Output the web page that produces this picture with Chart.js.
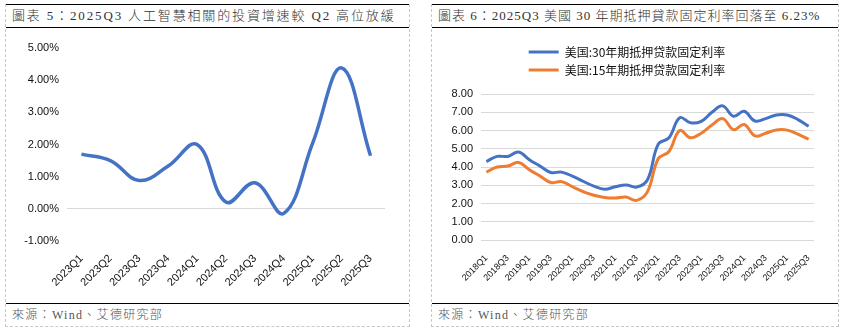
<!DOCTYPE html>
<html>
<head>
<meta charset="utf-8">
<script src="https://cdn.jsdelivr.net/npm/chart.js@4.4.1/dist/chart.umd.min.js"></script>
<style>
  body { margin: 0; width: 846px; height: 335px; background: #fff; position: relative; overflow: hidden; }
  .panel { position: absolute; top: 4px; height: 323px; box-sizing: border-box;
           border-left: 1px dashed #c8c8c8; border-right: 1px dashed #c8c8c8; border-bottom: 1px dashed #c8c8c8; }
  .title { position: absolute; left: 0; right: 0; top: 0; height: 24px; box-sizing: border-box;
           border-top: 1.5px solid #000; border-bottom: 1.5px solid #000;
           font-family: "Liberation Serif", "Noto Sans CJK TC", serif; font-size: 13px; line-height: 22px;
           font-weight: 300; color: #333; padding-left: 6px; white-space: nowrap; }
  .source { position: absolute; left: 0; right: 0; top: 299px; height: 24px; box-sizing: border-box;
            border-top: 1.5px solid #000;
            font-family: "Liberation Serif", "Noto Sans CJK TC", serif; font-size: 12px; line-height: 22px;
            font-weight: 300; letter-spacing: 1.3px; color: #555; padding-left: 6px; }
  canvas { position: absolute; top: 24px; }
</style>
</head>
<body>
<div class="panel" style="left:5px; width:405px;">
  <div class="title" style="letter-spacing:1.85px;">圖表 5：2025Q3 人工智慧相關的投資增速較 Q2 高位放緩</div>
  <canvas id="aiChart" width="403" height="275" style="left:0;"></canvas>
  <div class="source">來源：Wind、艾德研究部</div>
</div>
<div class="panel" style="left:431px; width:408px;">
  <div class="title" style="letter-spacing:1px;">圖表 6：2025Q3 美國 30 年期抵押貸款固定利率回落至 6.23%</div>
  <canvas id="mortgageChart" width="390" height="275" style="left:8px;"></canvas>
  <div class="source">來源：Wind、艾德研究部</div>
</div>
<script>
// 圖表 5 數據
const aiQuarters = ['2023Q1', '2023Q2', '2023Q3', '2023Q4', '2024Q1', '2024Q2', '2024Q3', '2024Q4', '2025Q1', '2025Q2', '2025Q3'];
const aiGrowth = [1.70, 1.50, 0.88, 1.33, 2.00, 0.21, 0.81, -0.14, 2.05, 4.38, 1.65];

// 圖表 6 數據
const rateQuarters = ['2018Q1', '2018Q2', '2018Q3', '2018Q4', '2019Q1', '2019Q2', '2019Q3', '2019Q4',
  '2020Q1', '2020Q2', '2020Q3', '2020Q4', '2021Q1', '2021Q2', '2021Q3', '2021Q4',
  '2022Q1', '2022Q2', '2022Q3', '2022Q4', '2023Q1', '2023Q2', '2023Q3', '2023Q4',
  '2024Q1', '2024Q2', '2024Q3', '2024Q4', '2025Q1', '2025Q2', '2025Q3'];
const rate30 = [4.30, 4.58, 4.58, 4.82, 4.40, 4.05, 3.70, 3.72, 3.50, 3.22, 2.95, 2.78, 2.92, 3.02, 2.90, 3.30,
  5.25, 5.60, 6.70, 6.42, 6.50, 7.00, 7.35, 6.78, 7.05, 6.52, 6.65, 6.85, 6.85, 6.60, 6.23];
const rate15 = [3.72, 4.00, 4.05, 4.25, 3.85, 3.50, 3.15, 3.20, 2.92, 2.65, 2.45, 2.33, 2.30, 2.35, 2.17, 2.65,
  4.45, 4.85, 6.00, 5.60, 5.85, 6.30, 6.65, 6.05, 6.33, 5.70, 5.85, 6.03, 6.02, 5.80, 5.52];
const rateNames = ['美国:30年期抵押贷款固定利率', '美国:15年期抵押贷款固定利率'];

const tickFont = { family: '"Liberation Sans", Arial, sans-serif', size: 11 };

new Chart(document.getElementById('aiChart'), {
    type: 'line',
    data: {
        labels: aiQuarters,
        datasets: [{
            data: aiGrowth,
            borderColor: '#4472C4',
            borderWidth: 3.5,
            tension: 0.4,
            pointRadius: 0,
            fill: false
        }]
    },
    options: {
        responsive: false,
        animation: false,
        layout: { padding: { top: 20, right: 24, left: 0, bottom: 0 } },
        plugins: { legend: { display: false }, tooltip: { enabled: false } },
        scales: {
            x: {
                offset: true,
                grid: { display: false },
                border: { display: false },
                ticks: { color: '#111', font: { family: tickFont.family, size: 11 }, minRotation: 45, maxRotation: 45, padding: 3, autoSkip: false },
                afterFit: (s) => { s.height = 62; }
            },
            y: {
                min: -1, max: 5,
                border: { display: false },
                grid: { drawTicks: false, color: (c) => c.tick.value === 0 ? '#d9d9d9' : 'transparent' },
                ticks: { stepSize: 1, color: '#111', font: tickFont, padding: 8,
                    callback: (v) => v.toFixed(2) + '%' },
                afterFit: (s) => { s.width = 61; }
            }
        }
    }
});

// 圖例下方留白
const legendGap = {
    id: 'legendGap',
    beforeInit(chart) {
        const fit = chart.legend.fit;
        chart.legend.fit = function () {
            fit.call(this);
            this.height += 8;
        };
    }
};

new Chart(document.getElementById('mortgageChart'), {
    type: 'line',
    data: {
        labels: rateQuarters,
        datasets: [{
            label: rateNames[0],
            data: rate30,
            borderColor: '#4472C4',
            backgroundColor: '#4472C4',
            borderWidth: 3,
            tension: 0.4,
            pointRadius: 0
        }, {
            label: rateNames[1],
            data: rate15,
            borderColor: '#ED7D31',
            backgroundColor: '#ED7D31',
            borderWidth: 3,
            tension: 0.4,
            pointRadius: 0
        }]
    },
    plugins: [legendGap],
    options: {
        responsive: false,
        animation: false,
        layout: { padding: { top: 12, right: 16, left: 0, bottom: 0 } },
        plugins: {
            tooltip: { enabled: false },
            legend: {
                position: 'top',
                labels: {
                    usePointStyle: true,
                    pointStyle: 'line',
                    pointStyleWidth: 30,
                    padding: 6,
                    color: '#111',
                    font: { family: '"Noto Sans CJK SC", sans-serif', size: 12 }
                }
            }
        },
        scales: {
            x: {
                offset: true,
                grid: { display: false },
                border: { display: false },
                ticks: {
                    color: '#111', font: { family: tickFont.family, size: 9 },
                    minRotation: 45, maxRotation: 45, padding: 5, autoSkip: false,
                    callback: function (v, i) { return i % 2 === 0 ? this.getLabelForValue(v) : ''; }
                },
                afterFit: (s) => { s.height = 63; }
            },
            y: {
                min: 0, max: 8,
                border: { display: false },
                grid: { drawTicks: false, color: '#d9d9d9' },
                ticks: { stepSize: 1, color: '#111', font: tickFont, padding: 8,
                    callback: (v) => v.toFixed(2) },
                afterFit: (s) => { s.width = 41; }
            }
        }
    }
});
</script>
</body>
</html>
